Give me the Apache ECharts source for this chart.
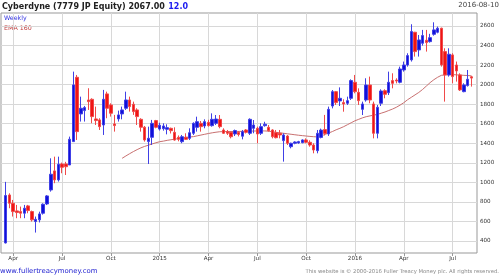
<!DOCTYPE html>
<html><head><meta charset="utf-8">
<script src="https://cdn.jsdelivr.net/npm/echarts@6/dist/echarts.min.js"></script>
<style>html,body{margin:0;padding:0;background:#fff}#c{width:500px;height:279px}</style>
</head><body><div id="c"></div>
<script>
// Weekly candles (index 0 = first week after listing, Mar 2014)
const opens = [380,871,786,708,701,684,759,701,599,616,684,779,922,1117,1025,1188,1188,1178,1417,2075,
1700,1734,1843,1850,1649,1639,1587,1905,1792,1598,1649,1700,1758,1843,1799,1741,1645,1564,1417,1461,
1632,1545,1549,1543,1553,1512,1461,1416,1461,1450,1502,1563,1604,1577,1614,1580,1604,1645,1536,1519,
1512,1495,1512,1472,1536,1502,1553,1553,1502,1580,1563,1536,1508,1502,1427,1474,1365,1400,1403,1406,
1434,1410,1382,1324,1460,1540,1495,1781,1928,1833,1816,1809,1860,2024,1921,1747,1843,1996,1802,1502,
1809,1938,1918,2041,2047,2024,2150,2201,2253,2536,2355,2423,2454,2440,2515,2536,2577,2338,2099,2304,
2201,2099,1928,1990,2080];
const closes = [865,786,701,691,684,735,711,616,622,677,776,861,1083,1025,1185,1154,1160,1441,1997,1519,
1758,1765,1826,1673,1632,1570,1850,1758,1707,1581,1690,1741,1843,1775,1724,1673,1564,1434,1451,1604,
1564,1585,1577,1560,1529,1433,1440,1467,1440,1508,1604,1621,1570,1621,1580,1645,1648,1570,1502,1502,
1467,1530,1490,1519,1512,1645,1587,1495,1570,1595,1529,1467,1457,1485,1485,1400,1400,1413,1417,1434,
1410,1382,1331,1502,1535,1500,1747,1928,1816,1860,1802,1836,2041,1928,1836,1802,1996,1843,1502,1768,
1935,1901,2024,2013,2037,2160,2201,2297,2543,2338,2457,2502,2430,2481,2560,2577,2202,2099,2311,2082,
2140,1946,1997,2055,2067];
const highs = [1005,888,820,769,752,769,769,711,650,700,785,870,1246,1263,1263,1202,1210,1468,2133,2099,
1877,1782,1963,1860,1775,1656,1946,1928,1809,1690,1734,1775,1928,1877,1826,1758,1656,1577,1570,1639,
1639,1610,1604,1594,1560,1563,1480,1485,1502,1553,1614,1672,1628,1645,1640,1706,1689,1689,1553,1536,
1519,1540,1525,1536,1545,1655,1638,1570,1604,1620,1587,1543,1536,1536,1502,1485,1406,1420,1425,1440,
1450,1430,1400,1536,1550,1690,1775,1945,1935,1972,1850,1877,2054,2099,1962,1826,2065,2082,1826,1792,
1952,1952,2133,2116,2065,2184,2236,2321,2618,2540,2508,2560,2560,2520,2638,2594,2583,2372,2372,2321,
2236,2116,2014,2150,2090];
const lows = [375,735,650,633,633,633,684,599,486,590,670,768,905,991,1008,1093,1075,1178,1417,1434,
1622,1622,1741,1605,1587,1536,1485,1656,1673,1519,1622,1645,1741,1724,1690,1587,1519,1417,1188,1383,
1553,1530,1529,1491,1500,1427,1420,1400,1433,1433,1485,1519,1519,1553,1570,1570,1587,1553,1495,1485,
1450,1474,1470,1440,1500,1485,1502,1400,1485,1570,1519,1450,1450,1450,1212,1382,1348,1390,1395,1400,
1400,1365,1297,1297,1450,1480,1475,1757,1792,1781,1723,1792,1843,1911,1792,1689,1826,1809,1450,1450,
1781,1860,1894,1962,2013,2013,2133,2184,2236,2287,2287,2399,2338,2430,2501,2525,2185,1826,2082,2014,
2031,1935,1922,1980,1980];
const ema160 = [null,null,null,null,null,null,null,null,null,null,null,null,null,null,null,null,null,null,null,null,
null,null,null,null,null,null,null,null,null,null,null,1246,1270,1293,1315,1335,1353,1368,1380,1393,
1405,1416,1422,1430,1436,1442,1448,1454,1460,1464,1468,1476,1484,1492,1500,1507,1513,1518,1519,1520,
1520,1521,1521,1522,1523,1524,1525,1526,1527,1526,1524,1518,1512,1507,1502,1497,1492,1487,1482,1478,
1474,1470,1467,1465,1475,1490,1505,1520,1538,1553,1570,1590,1610,1630,1645,1660,1672,1680,1688,1695,
1708,1720,1735,1750,1768,1790,1815,1845,1870,1895,1920,1950,1985,2020,2050,2075,2095,2100,2102,2103,
2100,2098,2095,2093,2090];
const tickIdx = [2,15,28,41,54,67,80,93,106,119];
const tickLabels = ['Apr','Jul','Oct','2015','Apr','Jul','Oct','2016','Apr','Jul'];
const yTicks = [400,600,800,1000,1200,1400,1600,1800,2000,2200,2400,2600];

const candles = opens.map((o,i)=>[i,o,closes[i],lows[i],highs[i]]);
const emaData = ema160.map((v,i)=>[i,v]);

const chart = echarts.init(document.getElementById('c'), null, {renderer:'canvas'});
const F = 'DejaVu Sans';
chart.setOption({
  animation:false,
  backgroundColor:'#fff',
  grid:{left:1,right:23,top:13,bottom:26,show:true,borderColor:'#999',borderWidth:1,backgroundColor:'#fff',containLabel:false},
  xAxis:{type:'value',min:-1.25,max:125.5,
    axisLine:{show:false},
    axisTick:{show:true,customValues:tickIdx,length:3,lineStyle:{color:'#999'}},
    axisLabel:{customValues:tickIdx,formatter:v=>tickLabels[tickIdx.indexOf(v)],fontFamily:F,fontSize:5.6,color:'#333',margin:3},
    splitLine:{show:true,lineStyle:{color:'#d8d8d8',width:1}}},
  yAxis:{type:'value',position:'right',min:277,max:2733,splitNumber:12,
    axisLine:{show:false},
    axisTick:{show:false,customValues:yTicks},
    axisLabel:{customValues:yTicks,formatter:v=>String(v),fontFamily:F,fontSize:5.6,color:'#333',margin:3},
    splitLine:{show:true,lineStyle:{color:'#d8d8d8',width:1}}},
  series:[
    {type:'line',data:emaData,showSymbol:false,connectNulls:false,
     lineStyle:{color:'#c87070',width:1},z:2},
    {type:'candlestick',data:candles,encode:{x:0,y:[1,2,3,4]},barWidth:3,z:3,
     itemStyle:{color:'#1010d8',color0:'#f01414',borderColor:'#4040e6',borderColor0:'#f04a4a',borderWidth:1}}
  ],
  graphic:[
    {type:'text',left:2,top:1,style:{text:'{a|Cyberdyne (7779 JP Equity) 2067.00} {b|12.0}',
      rich:{a:{fontFamily:F,fontSize:8,fontWeight:'bold',fill:'#222'},b:{fontFamily:F,fontSize:8,fontWeight:'bold',fill:'#1c1cf0'}}}},
    {type:'text',right:1,top:2,style:{text:'2016-08-10',fontFamily:F,fontSize:7,fill:'#444'}},
    {type:'text',left:4,top:15,style:{text:'Weekly',fontFamily:F,fontSize:6.3,fill:'#3030e0'}},
    {type:'text',left:4,top:25,style:{text:'EMA 160',fontFamily:F,fontSize:6.3,fill:'#c04040'}},
    {type:'text',left:0,top:268,style:{text:'www.fullertreacymoney.com',fontFamily:F,fontSize:6.9,fill:'#2020d0'}},
    {type:'text',right:1,top:269,style:{text:'This website is \u00a9 2000-2016 Fuller Treacy Money plc. All rights reserved.',fontFamily:F,fontSize:5.3,fill:'#888'}}
  ]
});
</script></body></html>
